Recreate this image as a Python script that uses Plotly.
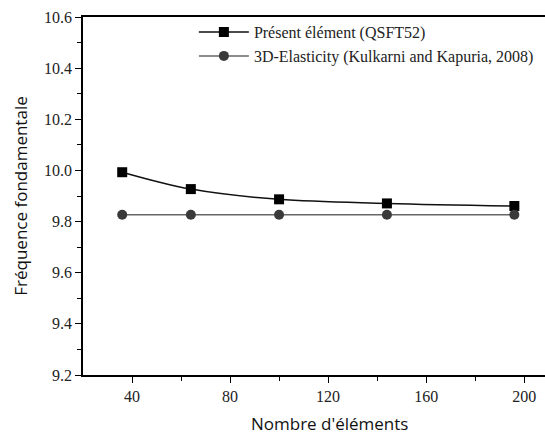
import plotly.graph_objects as go

n_elements = [36, 64, 100, 144, 196]
present_qsft52 = [9.993, 9.927, 9.887, 9.871, 9.861]
elasticity_3d = [9.827, 9.827, 9.827, 9.827, 9.827]

x_ticks = [40, 80, 120, 160, 200]
y_ticks = [9.2, 9.4, 9.6, 9.8, 10.0, 10.2, 10.4, 10.6]
y_tick_text = ["9.2", "9.4", "9.6", "9.8", "10.0", "10.2", "10.4", "10.6"]

serif = "Times New Roman, Liberation Serif, serif"
sans = "Open Sans"

fig = go.Figure()
fig.add_trace(go.Scatter(
    x=n_elements, y=present_qsft52, mode="lines+markers",
    name="Présent élément (QSFT52)",
    line=dict(color="#111111", width=1.5, shape="spline"),
    marker=dict(symbol="square", size=10, color="#000000"),
))
fig.add_trace(go.Scatter(
    x=n_elements, y=elasticity_3d, mode="lines+markers",
    name="3D-Elasticity (Kulkarni and Kapuria, 2008)",
    line=dict(color="#666666", width=1.5),
    marker=dict(symbol="circle", size=10, color="#3a3a3a"),
))

fig.update_layout(
    width=545, height=435,
    margin=dict(l=83, r=0, t=17, b=60),
    paper_bgcolor="white", plot_bgcolor="white",
    showlegend=True,
    legend=dict(
        x=0.24, y=1.005, xanchor="left", yanchor="top",
        font=dict(family=serif, size=16, color="#222222"),
        bgcolor="rgba(0,0,0,0)", tracegroupgap=0, itemwidth=50,
    ),
    xaxis=dict(
        range=[20, 208.5], tickvals=x_ticks,
        ticks="outside", ticklen=6, tickwidth=1.3, tickcolor="#000",
        minor=dict(tickvals=[60, 100, 140, 180], ticks="outside", ticklen=4, tickcolor="#000", tickwidth=1.3),
        showline=True, linecolor="#000", linewidth=1.5, mirror=True,
        showgrid=False, zeroline=False,
        tickfont=dict(family=serif, size=16, color="#222222"),
    ),
    yaxis=dict(
        range=[9.2, 10.6], tickvals=y_ticks, ticktext=y_tick_text,
        ticks="outside", ticklen=6, tickwidth=1.3, tickcolor="#000",
        minor=dict(tickvals=[9.3, 9.5, 9.7, 9.9, 10.1, 10.3, 10.5], ticks="outside", ticklen=4, tickcolor="#000", tickwidth=1.3),
        showline=True, linecolor="#000", linewidth=1.5,
        showgrid=False, zeroline=False,
        tickfont=dict(family=serif, size=16, color="#222222"),
        title=dict(text="Fréquence fondamentale", font=dict(family=sans, size=17, color="#111111"), standoff=12),
    ),
    annotations=[dict(
        text="Nombre d'éléments", x=0, xref="x", y=0,
        yref="paper", yshift=-48, showarrow=False, xanchor="center", yanchor="middle",
        font=dict(family=sans, size=17, color="#111111"),
    )],
)
# place x title at pixel x≈329 (centre of the full original axis)
fig.layout.annotations[0].update(x=20 + (329 - 83) / (545 - 83) * (208.5 - 20))

fig.write_html("out.html")
